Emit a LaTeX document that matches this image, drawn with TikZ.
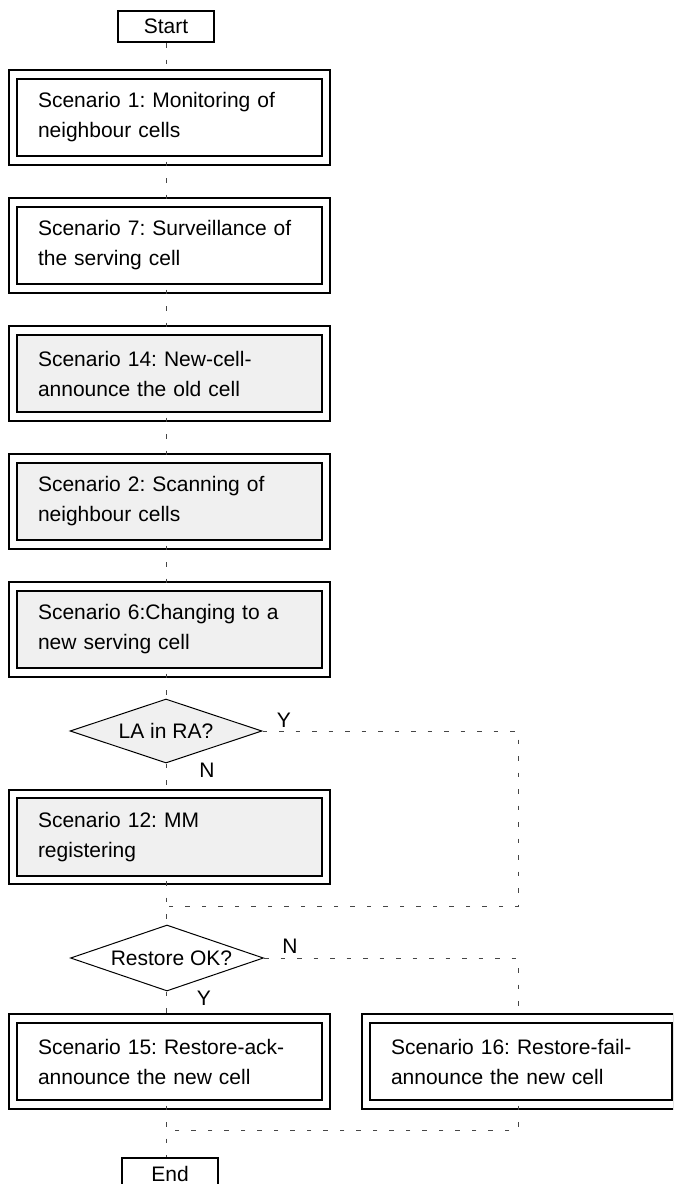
\documentclass[tikz,border=0pt]{standalone}
\usepackage{fontspec}
\setmainfont{Liberation Sans}
\usetikzlibrary{shapes.geometric}
\definecolor{boxgray}{RGB}{240,240,240}
\definecolor{conngray}{RGB}{70,70,70}
\frenchspacing
\begin{document}
\begin{tikzpicture}[x=1pt,y=-1pt,
  font=\fontsize{21}{30}\selectfont\frenchspacing,
  termbox/.style={draw=black,line width=1.6pt,minimum width=96pt,minimum height=31.5pt,inner sep=0pt,fill=white},
  scenbox/.style={draw=black,line width=2.2pt,double=white,double distance=6.4pt,
     minimum height=86pt,inner xsep=25pt,inner ysep=0pt,text width=263pt,align=left,fill=white},
  grayfill/.style={fill=boxgray},
  decision/.style={draw=black,line width=1pt,shape=diamond,aspect=3,minimum width=192pt,minimum height=64pt,inner sep=0pt},
  conn/.style={draw=conngray,line width=0.9pt,dash pattern=on 4.5pt off 12pt},
  lbl/.style={inner sep=0pt}
]
\useasboundingbox (0,0) rectangle (673,1184);
\clip (0,0) rectangle (673,1184);

\node[termbox] (start) at (166,26.5) {Start};
\node[scenbox] (b1) at (169.5,117.5) {Scenario 1: Monitoring of\\neighbour cells};
\node[scenbox] (b2) at (169.5,245.5) {Scenario 7: Surveillance of\\the serving cell};
\node[scenbox,grayfill] (b3) at (169.5,373.5) {Scenario 14: New-cell-\\announce the old cell};
\node[scenbox,grayfill] (b4) at (169.5,501.5) {Scenario 2: Scanning of\\neighbour cells};
\node[scenbox,grayfill] (b5) at (169.5,629.5) {Scenario 6:Changing to a\\new serving cell};
\node[decision,fill=boxgray] (la) at (166,731) {LA in RA?};
\node[scenbox,grayfill] (b12) at (169.5,837) {Scenario 12: MM\\registering};
\node[decision,fill=white,minimum width=193pt,minimum height=66pt] (rs) at (167,958) {\hspace*{9pt}Restore OK?};
\node[scenbox] (b15) at (169.5,1061.5) {Scenario 15: Restore-ack-\\announce the new cell};
\node[scenbox,text width=260pt] (b16) at (521,1061.5) {Scenario 16: Restore-fail-\\announce the new cell};
\node[termbox] (end) at (170,1173.5) {End};

\node[lbl] (ly) at (284,720) {Y};
\node[lbl] (ln) at (207,770) {N};
\node[lbl] (rn) at (290,946) {N};
\node[lbl] (ry) at (204,998) {Y};

\coordinate (c1) at (518,731);
\coordinate (c2) at (518,906);
\coordinate (j1) at (166,906);
\coordinate (c3) at (518,958);
\coordinate (c4) at (518,1130);
\coordinate (j2) at (166,1130);

\draw[conn] (start.south) -- (start.south |- b1.north);
\draw[conn] (b1.south -| start.south) -- (b2.north -| start.south);
\draw[conn] (b2.south -| start.south) -- (b3.north -| start.south);
\draw[conn] (b3.south -| start.south) -- (b4.north -| start.south);
\draw[conn] (b4.south -| start.south) -- (b5.north -| start.south);
\draw[conn] (b5.south -| start.south) -- (la.north);
\draw[conn] (la.south) -- (la.south |- b12.north);
\draw[conn] (b12.south -| la.south) -- (j1) -- (rs.north -| la.south);
\draw[conn] (la.east) -- (c1) -- (c2) -- (j1);
\draw[conn] (rs.east) -- (c3) -- (c3 |- b16.north);
\draw[conn] (rs.south -| la.south) -- (b15.north -| la.south);
\draw[conn] (b15.south -| la.south) -- (j2) -- (end.north -| la.south);
\draw[conn] (b16.south -| c4) -- (c4) -- (j2);
\end{tikzpicture}
\end{document}
